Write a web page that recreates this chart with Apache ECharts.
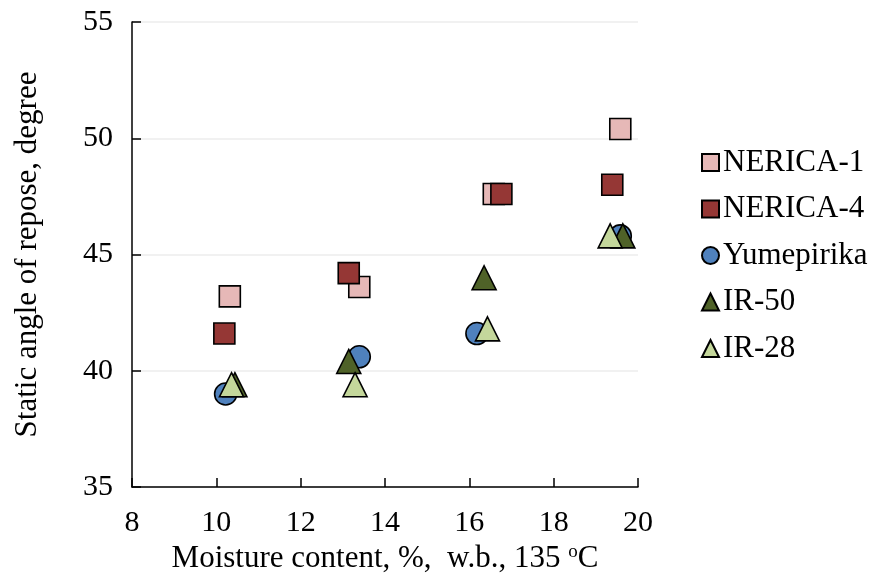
<!DOCTYPE html>
<html>
<head>
<meta charset="utf-8">
<script src="https://cdn.jsdelivr.net/npm/echarts@6/dist/echarts.min.js"></script>
<style>
html,body{margin:0;padding:0;background:#fff;}
#chart{width:882px;height:576px;}
</style>
</head>
<body>
<div id="chart"></div>
<script>
// Data
const seriesNames = ["NERICA-1", "NERICA-4", "Yumepirika", "IR-50", "IR-28"];
const nerica1X = [10.32, 13.39, 16.58, 19.58];
const nerica1Y = [43.2, 43.6, 47.6, 50.4];
const nerica4X = [10.19, 13.14, 16.76, 19.39];
const nerica4Y = [41.6, 44.2, 47.6, 48.0];
const yumeX = [10.22, 13.39, 16.18, 19.58];
const yumeY = [39.0, 40.6, 41.6, 45.8];
const ir50X = [10.44, 13.14, 16.35, 19.64];
const ir50Y = [39.4, 40.4, 44.0, 45.8];
const ir28X = [10.36, 13.29, 16.43, 19.34];
const ir28Y = [39.4, 39.4, 41.8, 45.8];
const xTicks = [8, 10, 12, 14, 16, 18, 20];
const yTicks = [35, 40, 45, 50, 55];

const colors = ["#E6B8B7", "#953735", "#4F81BD", "#4F6228", "#C4D79B"];
const symbols = ["rect", "rect", "circle", "triangle", "triangle"];
const sizes = [21, 21, 22, 24, 24];
const xs = [nerica1X, nerica4X, yumeX, ir50X, ir28X];
const ys = [nerica1Y, nerica4Y, yumeY, ir50Y, ir28Y];

const FONT = "'Liberation Serif', 'Times New Roman', serif";

const series = seriesNames.map((name, i) => ({
  name: name,
  type: 'scatter',
  symbol: symbols[i],
  symbolSize: sizes[i],
  data: xs[i].map((x, j) => [x, ys[i][j]]),
  itemStyle: { color: colors[i], borderColor: '#000', borderWidth: 1.6, opacity: 1 },
  emphasis: { disabled: true }
}));

const chart = echarts.init(document.getElementById('chart'), null, { renderer: 'canvas' });
chart.setOption({
  animation: false,
  backgroundColor: '#fff',
  textStyle: { fontFamily: FONT },
  grid: { left: 132, right: 244, top: 22, bottom: 89, containLabel: false, outerBoundsMode: 'none' },
  legend: {
    orient: 'vertical',
    left: 701,
    top: 147,
    padding: 0,
    itemWidth: 17,
    itemHeight: 17,
    itemGap: 15.5,
    data: seriesNames.map((n, i) => ({ name: n, icon: symbols[i] })),
    textStyle: { fontFamily: FONT, fontSize: 31, color: '#000', padding: [0, 0, 0, -1] }
  },
  xAxis: {
    type: 'value',
    min: xTicks[0],
    max: xTicks[xTicks.length - 1],
    interval: 2,
    name: 'Moisture content, %,  w.b., 135 {sup|o}C',
    nameLocation: 'middle',
    nameGap: 56,
    nameTextStyle: {
      fontFamily: FONT, fontSize: 31, color: '#000',
      rich: { sup: { fontFamily: FONT, fontSize: 19, verticalAlign: 'top', padding: [0, 0, 12, 0], color: '#000' } }
    },
    axisLine: { show: true, lineStyle: { color: '#000', width: 1.5 } },
    axisTick: { show: true, inside: true, length: 9, lineStyle: { color: '#000', width: 1.5 } },
    axisLabel: { fontFamily: FONT, fontSize: 30, color: '#000', margin: 21 },
    splitLine: { show: false }
  },
  yAxis: {
    type: 'value',
    min: yTicks[0],
    max: yTicks[yTicks.length - 1],
    interval: 5,
    name: 'Static angle of repose, degree',
    nameLocation: 'middle',
    nameGap: 89,
    nameTextStyle: { fontFamily: FONT, fontSize: 31, color: '#000' },
    axisLine: { show: true, lineStyle: { color: '#000', width: 1.5 } },
    axisTick: { show: true, inside: true, length: 9, lineStyle: { color: '#000', width: 1.5 } },
    axisLabel: { fontFamily: FONT, fontSize: 30, color: '#000', margin: 19 },
    splitLine: { show: true, lineStyle: { color: '#EDEDED', width: 1.5 } }
  },
  series: series
});
</script>
</body>
</html>
